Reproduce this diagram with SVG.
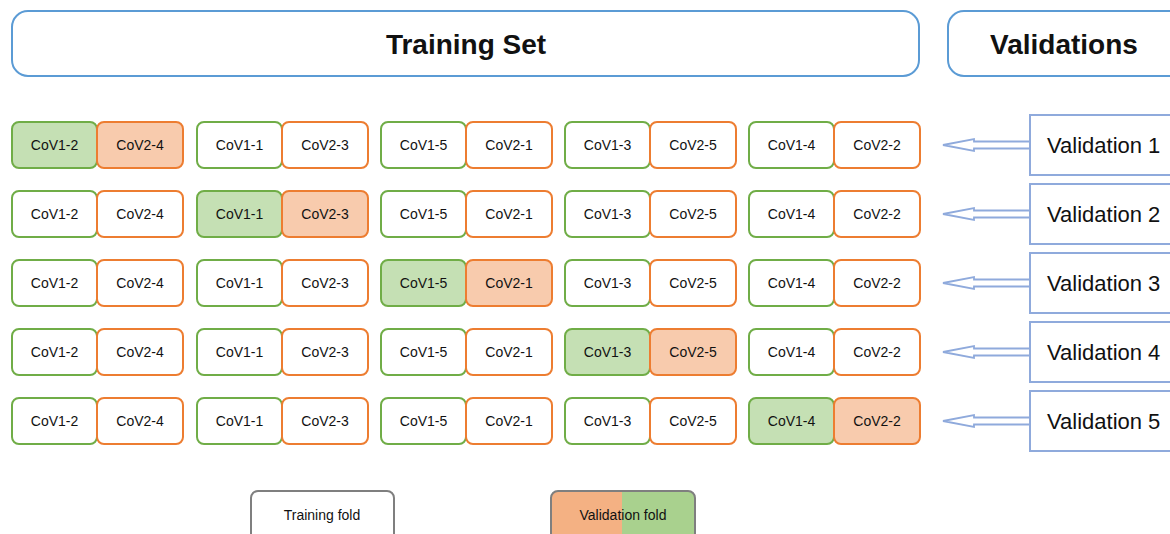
<svg xmlns="http://www.w3.org/2000/svg" width="1170" height="534" viewBox="0 0 1170 534">
<style>
text{font-family:"Liberation Sans",Arial,sans-serif;fill:#111;text-anchor:middle}
.hdr{fill:#fff;stroke:#5b9bd5;stroke-width:2}
.ht{font-size:28px;font-weight:bold}
.g{fill:#fff;stroke:#70ad47;stroke-width:2}
.o{fill:#fff;stroke:#ed7d31;stroke-width:2}
.gv{fill:#c5e0b4;stroke:#70ad47;stroke-width:2}
.ov{fill:#f8cbad;stroke:#ed7d31;stroke-width:2}
.ct{font-size:14px}
.vb{fill:#fff;stroke:#8faadc;stroke-width:2}
.vt{font-size:22px}
.ar{fill:#fff;stroke:#8faadc;stroke-width:1.8}
.lg{fill:#fff;stroke:#7f7f7f;stroke-width:2}
.lt{font-size:14px}
</style>
<defs>
<g id="pairT">
<rect class="g" x="0" y="0" width="85" height="46" rx="7"/>
<rect class="o" x="85" y="0" width="86" height="46" rx="7"/>
</g>
<g id="pairV">
<rect class="gv" x="0" y="0" width="85" height="46" rx="7"/>
<rect class="ov" x="85" y="0" width="86" height="46" rx="7"/>
</g>
</defs>
<g id="header-training">
<rect class="hdr" x="12" y="11" width="907" height="65" rx="16"/>
<text class="ht" x="466" y="54">Training Set</text>
</g>
<g id="header-validations">
<rect class="hdr" x="948" y="11" width="240" height="65" rx="16"/>
<text class="ht" x="1064" y="54">Validations</text>
</g>
<g id="row1">
<use href="#pairV" x="12" y="122"/><use href="#pairT" x="197" y="122"/><use href="#pairT" x="381" y="122"/><use href="#pairT" x="565" y="122"/><use href="#pairT" x="749" y="122"/>
<text class="ct" x="54.5" y="150">CoV1-2</text><text class="ct" x="140" y="150">CoV2-4</text>
<text class="ct" x="239.5" y="150">CoV1-1</text><text class="ct" x="325" y="150">CoV2-3</text>
<text class="ct" x="423.5" y="150">CoV1-5</text><text class="ct" x="509" y="150">CoV2-1</text>
<text class="ct" x="607.5" y="150">CoV1-3</text><text class="ct" x="693" y="150">CoV2-5</text>
<text class="ct" x="791.5" y="150">CoV1-4</text><text class="ct" x="877" y="150">CoV2-2</text>
</g>
<g id="row2">
<use href="#pairT" x="12" y="191"/><use href="#pairV" x="197" y="191"/><use href="#pairT" x="381" y="191"/><use href="#pairT" x="565" y="191"/><use href="#pairT" x="749" y="191"/>
<text class="ct" x="54.5" y="219">CoV1-2</text><text class="ct" x="140" y="219">CoV2-4</text>
<text class="ct" x="239.5" y="219">CoV1-1</text><text class="ct" x="325" y="219">CoV2-3</text>
<text class="ct" x="423.5" y="219">CoV1-5</text><text class="ct" x="509" y="219">CoV2-1</text>
<text class="ct" x="607.5" y="219">CoV1-3</text><text class="ct" x="693" y="219">CoV2-5</text>
<text class="ct" x="791.5" y="219">CoV1-4</text><text class="ct" x="877" y="219">CoV2-2</text>
</g>
<g id="row3">
<use href="#pairT" x="12" y="260"/><use href="#pairT" x="197" y="260"/><use href="#pairV" x="381" y="260"/><use href="#pairT" x="565" y="260"/><use href="#pairT" x="749" y="260"/>
<text class="ct" x="54.5" y="288">CoV1-2</text><text class="ct" x="140" y="288">CoV2-4</text>
<text class="ct" x="239.5" y="288">CoV1-1</text><text class="ct" x="325" y="288">CoV2-3</text>
<text class="ct" x="423.5" y="288">CoV1-5</text><text class="ct" x="509" y="288">CoV2-1</text>
<text class="ct" x="607.5" y="288">CoV1-3</text><text class="ct" x="693" y="288">CoV2-5</text>
<text class="ct" x="791.5" y="288">CoV1-4</text><text class="ct" x="877" y="288">CoV2-2</text>
</g>
<g id="row4">
<use href="#pairT" x="12" y="329"/><use href="#pairT" x="197" y="329"/><use href="#pairT" x="381" y="329"/><use href="#pairV" x="565" y="329"/><use href="#pairT" x="749" y="329"/>
<text class="ct" x="54.5" y="357">CoV1-2</text><text class="ct" x="140" y="357">CoV2-4</text>
<text class="ct" x="239.5" y="357">CoV1-1</text><text class="ct" x="325" y="357">CoV2-3</text>
<text class="ct" x="423.5" y="357">CoV1-5</text><text class="ct" x="509" y="357">CoV2-1</text>
<text class="ct" x="607.5" y="357">CoV1-3</text><text class="ct" x="693" y="357">CoV2-5</text>
<text class="ct" x="791.5" y="357">CoV1-4</text><text class="ct" x="877" y="357">CoV2-2</text>
</g>
<g id="row5">
<use href="#pairT" x="12" y="398"/><use href="#pairT" x="197" y="398"/><use href="#pairT" x="381" y="398"/><use href="#pairT" x="565" y="398"/><use href="#pairV" x="749" y="398"/>
<text class="ct" x="54.5" y="426">CoV1-2</text><text class="ct" x="140" y="426">CoV2-4</text>
<text class="ct" x="239.5" y="426">CoV1-1</text><text class="ct" x="325" y="426">CoV2-3</text>
<text class="ct" x="423.5" y="426">CoV1-5</text><text class="ct" x="509" y="426">CoV2-1</text>
<text class="ct" x="607.5" y="426">CoV1-3</text><text class="ct" x="693" y="426">CoV2-5</text>
<text class="ct" x="791.5" y="426">CoV1-4</text><text class="ct" x="877" y="426">CoV2-2</text>
</g>
<g id="connectors">
<polygon class="ar" points="1030,141.5 974,141.5 974,139 943,145 974,151 974,148.5 1030,148.5"/>
<polygon class="ar" points="1030,210.5 974,210.5 974,208 943,214 974,220 974,217.5 1030,217.5"/>
<polygon class="ar" points="1030,279.5 974,279.5 974,277 943,283 974,289 974,286.5 1030,286.5"/>
<polygon class="ar" points="1030,348.5 974,348.5 974,346 943,352 974,358 974,355.5 1030,355.5"/>
<polygon class="ar" points="1030,417.5 974,417.5 974,415 943,421 974,427 974,424.5 1030,424.5"/>
</g>
<g id="val1"><rect class="vb" x="1030" y="115" width="160" height="60"/><text class="vt" x="1105" y="153" text-anchor="start" style="text-anchor:start" dx="-58">Validation 1</text></g>
<g id="val2"><rect class="vb" x="1030" y="184" width="160" height="60"/><text class="vt" x="1105" y="222" style="text-anchor:start" dx="-58">Validation 2</text></g>
<g id="val3"><rect class="vb" x="1030" y="253" width="160" height="60"/><text class="vt" x="1105" y="291" style="text-anchor:start" dx="-58">Validation 3</text></g>
<g id="val4"><rect class="vb" x="1030" y="322" width="160" height="60"/><text class="vt" x="1105" y="360" style="text-anchor:start" dx="-58">Validation 4</text></g>
<g id="val5"><rect class="vb" x="1030" y="391" width="160" height="60"/><text class="vt" x="1105" y="429" style="text-anchor:start" dx="-58">Validation 5</text></g>
<g id="legend-training">
<rect class="lg" x="251" y="491" width="143" height="60" rx="7"/>
<text class="lt" x="322" y="520">Training fold</text>
</g>
<g id="legend-validation">
<path d="M558,491 H622 V551 H558 Q551,551 551,544 V498 Q551,491 558,491 Z" fill="#f4b183"/>
<path d="M622,491 H688 Q695,491 695,498 V544 Q695,551 688,551 H622 Z" fill="#a9d18e"/>
<rect x="551" y="491" width="144" height="60" rx="7" fill="none" stroke="#7f7f7f" stroke-width="2"/>
<text class="lt" x="623" y="520">Validation fold</text>
</g>
</svg>
